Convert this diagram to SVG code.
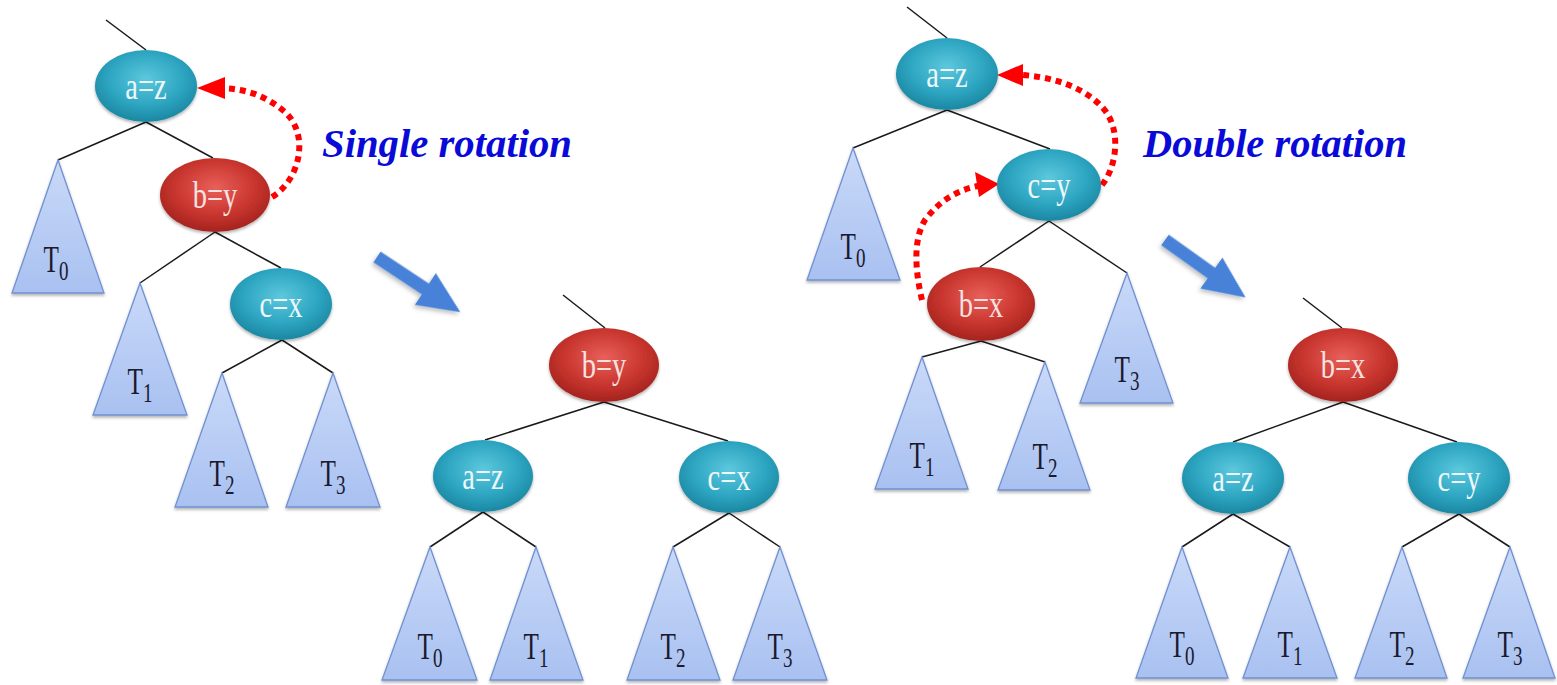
<svg xmlns="http://www.w3.org/2000/svg" width="1557" height="685" viewBox="0 0 1557 685">
<style>
.edge{stroke:#1a1a1a;stroke-width:1.5;fill:none}
.tri{fill:url(#triG);stroke:#7090d0;stroke-width:1.3;filter:url(#sh)}
.teal{fill:url(#tealG);filter:url(#sh)}
.red{fill:url(#redG);filter:url(#sh)}
.nl{font-family:"Liberation Serif","Times New Roman",serif;font-size:38px;fill:#eef8fb;text-anchor:middle}
.nr{fill:#f8e2e0}
.tl{font-family:"Liberation Serif","Times New Roman",serif;font-size:37px;fill:#1a1a30;text-anchor:middle}
.sub{font-size:28px}
.dot{stroke:#ff0000;stroke-width:6;stroke-dasharray:6 5;fill:none}
.ah{fill:#ff0000}
.title{font-family:"Liberation Serif","Times New Roman",serif;font-size:40px;font-weight:bold;font-style:italic;fill:#0a0ad8}
.big{fill:#4682d8;filter:url(#sh2)}
</style>
<defs>
<radialGradient id="tealG" cx="50%" cy="40%" r="60%">
<stop offset="0" stop-color="#5cc8dd"/>
<stop offset="0.6" stop-color="#2ea6c2"/>
<stop offset="1" stop-color="#1b87a2"/>
</radialGradient>
<radialGradient id="redG" cx="50%" cy="40%" r="60%">
<stop offset="0" stop-color="#e8605a"/>
<stop offset="0.6" stop-color="#c9362f"/>
<stop offset="1" stop-color="#a4231e"/>
</radialGradient>
<linearGradient id="triG" x1="0" y1="0" x2="0" y2="1">
<stop offset="0" stop-color="#c9d9f8"/>
<stop offset="1" stop-color="#a9c1f1"/>
</linearGradient>
<filter id="sh" x="-20%" y="-20%" width="140%" height="140%">
<feDropShadow dx="0" dy="2" stdDeviation="1.5" flood-color="#000" flood-opacity="0.3"/>
</filter>
<filter id="sh2" x="-20%" y="-20%" width="140%" height="140%">
<feDropShadow dx="0" dy="3" stdDeviation="2" flood-color="#000" flood-opacity="0.25"/>
</filter>
</defs>

<g id="connectors">
<!-- tree 1 -->
<line class="edge" x1="106" y1="20" x2="146" y2="50"/>
<line class="edge" x1="146" y1="122" x2="58" y2="160"/>
<line class="edge" x1="146" y1="122" x2="213" y2="158"/>
<line class="edge" x1="215" y1="232" x2="140" y2="283"/>
<line class="edge" x1="215" y1="232" x2="281" y2="268"/>
<line class="edge" x1="282" y1="340" x2="222" y2="373"/>
<line class="edge" x1="282" y1="340" x2="333" y2="373"/>
<!-- tree 2 -->
<line class="edge" x1="563" y1="295" x2="605" y2="328"/>
<line class="edge" x1="604" y1="402" x2="485" y2="440"/>
<line class="edge" x1="604" y1="402" x2="728" y2="441"/>
<line class="edge" x1="483" y1="512" x2="430" y2="547"/>
<line class="edge" x1="483" y1="512" x2="536" y2="547"/>
<line class="edge" x1="729" y1="513" x2="673" y2="547"/>
<line class="edge" x1="729" y1="513" x2="780" y2="547"/>
<!-- tree 3 -->
<line class="edge" x1="907" y1="7" x2="947" y2="38"/>
<line class="edge" x1="947" y1="110" x2="853" y2="148"/>
<line class="edge" x1="947" y1="110" x2="1050" y2="149"/>
<line class="edge" x1="1049" y1="221" x2="980" y2="267"/>
<line class="edge" x1="1049" y1="221" x2="1127" y2="273"/>
<line class="edge" x1="981" y1="341" x2="922" y2="357"/>
<line class="edge" x1="981" y1="341" x2="1045" y2="362"/>
<!-- tree 4 -->
<line class="edge" x1="1303" y1="298" x2="1342" y2="328"/>
<line class="edge" x1="1343" y1="402" x2="1233" y2="442"/>
<line class="edge" x1="1343" y1="402" x2="1457" y2="442"/>
<line class="edge" x1="1233" y1="514" x2="1182" y2="547"/>
<line class="edge" x1="1233" y1="514" x2="1290" y2="547"/>
<line class="edge" x1="1459" y1="514" x2="1402" y2="547"/>
<line class="edge" x1="1459" y1="514" x2="1510" y2="547"/>
<!-- rotation arrows -->
<path class="dot" d="M272,197 C300,180 310,135 285,112 C265,95 245,89 222,88"/>
<polygon class="ah" points="197,88 225,77 225,99"/>
<path class="dot" d="M1102,185 C1118,165 1122,125 1100,105 C1080,85 1050,77 1022,75"/>
<polygon class="ah" points="997,75 1023,64 1023,86"/>
<path class="dot" d="M922,300 C915,270 913,240 925,220 C940,200 958,190 978,186"/>
<polygon class="ah" points="999,184 975,172 979,197"/>
<!-- big arrows -->
<polygon class="big" transform="translate(377,257) rotate(33.5)" points="0,-6.5 58,-6.5 58,-19 100,0 58,19 58,6.5 0,6.5"/>
<polygon class="big" transform="translate(1165,240) rotate(35.5)" points="0,-6.5 57,-6.5 57,-19 99,0 57,19 57,6.5 0,6.5"/>
</g>

<text class="title" x="322" y="157" textLength="250" lengthAdjust="spacingAndGlyphs">Single rotation</text>
<text class="title" x="1143" y="157" textLength="264" lengthAdjust="spacingAndGlyphs">Double rotation</text>

<!-- tree 1 nodes -->
<g id="t1-a"><ellipse class="teal" cx="146" cy="86" rx="51" ry="36"/><text class="nl" transform="translate(146,99) scale(0.75,1)">a=z</text></g>
<g id="t1-b"><ellipse class="red" cx="215" cy="195" rx="55" ry="37"/><text class="nl nr" transform="translate(215,208) scale(0.75,1)">b=y</text></g>
<g id="t1-c"><ellipse class="teal" cx="281" cy="304" rx="51" ry="36"/><text class="nl" transform="translate(281,317) scale(0.75,1)">c=x</text></g>
<g id="t1-T0"><polygon class="tri" points="58,160 104,293 12,293"/><text class="tl" transform="translate(56,272) scale(0.68,1)">T<tspan class="sub" dy="8">0</tspan></text></g>
<g id="t1-T1"><polygon class="tri" points="140,283 187,415 93,415"/><text class="tl" transform="translate(140,394) scale(0.68,1)">T<tspan class="sub" dy="8">1</tspan></text></g>
<g id="t1-T2"><polygon class="tri" points="222,373 268,507 175,507"/><text class="tl" transform="translate(222,486) scale(0.68,1)">T<tspan class="sub" dy="8">2</tspan></text></g>
<g id="t1-T3"><polygon class="tri" points="333,373 380,507 286,507"/><text class="tl" transform="translate(333,486) scale(0.68,1)">T<tspan class="sub" dy="8">3</tspan></text></g>

<!-- tree 2 nodes -->
<g id="t2-b"><ellipse class="red" cx="604" cy="365" rx="55" ry="37"/><text class="nl nr" transform="translate(604,378) scale(0.75,1)">b=y</text></g>
<g id="t2-a"><ellipse class="teal" cx="483" cy="476" rx="50" ry="36"/><text class="nl" transform="translate(483,489) scale(0.75,1)">a=z</text></g>
<g id="t2-c"><ellipse class="teal" cx="729" cy="477" rx="50" ry="36"/><text class="nl" transform="translate(729,490) scale(0.75,1)">c=x</text></g>
<g id="t2-T0"><polygon class="tri" points="430,547 477,680 382,680"/><text class="tl" transform="translate(430,659) scale(0.68,1)">T<tspan class="sub" dy="8">0</tspan></text></g>
<g id="t2-T1"><polygon class="tri" points="536,547 583,680 490,680"/><text class="tl" transform="translate(536,659) scale(0.68,1)">T<tspan class="sub" dy="8">1</tspan></text></g>
<g id="t2-T2"><polygon class="tri" points="673,547 720,680 627,680"/><text class="tl" transform="translate(673,659) scale(0.68,1)">T<tspan class="sub" dy="8">2</tspan></text></g>
<g id="t2-T3"><polygon class="tri" points="780,547 827,680 733,680"/><text class="tl" transform="translate(780,659) scale(0.68,1)">T<tspan class="sub" dy="8">3</tspan></text></g>

<!-- tree 3 nodes -->
<g id="t3-a"><ellipse class="teal" cx="947" cy="74" rx="51" ry="36"/><text class="nl" transform="translate(947,87) scale(0.75,1)">a=z</text></g>
<g id="t3-c"><ellipse class="teal" cx="1049" cy="185" rx="52" ry="36"/><text class="nl" transform="translate(1049,198) scale(0.75,1)">c=y</text></g>
<g id="t3-b"><ellipse class="red" cx="981" cy="304" rx="54" ry="37"/><text class="nl nr" transform="translate(981,317) scale(0.75,1)">b=x</text></g>
<g id="t3-T0"><polygon class="tri" points="853,148 900,280 807,280"/><text class="tl" transform="translate(853,259) scale(0.68,1)">T<tspan class="sub" dy="8">0</tspan></text></g>
<g id="t3-T3"><polygon class="tri" points="1127,273 1173,403 1080,403"/><text class="tl" transform="translate(1127,382) scale(0.68,1)">T<tspan class="sub" dy="8">3</tspan></text></g>
<g id="t3-T1"><polygon class="tri" points="922,357 968,489 875,489"/><text class="tl" transform="translate(922,468) scale(0.68,1)">T<tspan class="sub" dy="8">1</tspan></text></g>
<g id="t3-T2"><polygon class="tri" points="1045,362 1090,490 998,490"/><text class="tl" transform="translate(1045,469) scale(0.68,1)">T<tspan class="sub" dy="8">2</tspan></text></g>

<!-- tree 4 nodes -->
<g id="t4-b"><ellipse class="red" cx="1343" cy="365" rx="55" ry="37"/><text class="nl nr" transform="translate(1343,378) scale(0.75,1)">b=x</text></g>
<g id="t4-a"><ellipse class="teal" cx="1233" cy="478" rx="51" ry="36"/><text class="nl" transform="translate(1233,491) scale(0.75,1)">a=z</text></g>
<g id="t4-c"><ellipse class="teal" cx="1459" cy="478" rx="51" ry="36"/><text class="nl" transform="translate(1459,491) scale(0.75,1)">c=y</text></g>
<g id="t4-T0"><polygon class="tri" points="1182,547 1228,678 1136,678"/><text class="tl" transform="translate(1182,657) scale(0.68,1)">T<tspan class="sub" dy="8">0</tspan></text></g>
<g id="t4-T1"><polygon class="tri" points="1290,547 1337,678 1243,678"/><text class="tl" transform="translate(1290,657) scale(0.68,1)">T<tspan class="sub" dy="8">1</tspan></text></g>
<g id="t4-T2"><polygon class="tri" points="1402,547 1447,678 1355,678"/><text class="tl" transform="translate(1402,657) scale(0.68,1)">T<tspan class="sub" dy="8">2</tspan></text></g>
<g id="t4-T3"><polygon class="tri" points="1510,547 1555,678 1463,678"/><text class="tl" transform="translate(1510,657) scale(0.68,1)">T<tspan class="sub" dy="8">3</tspan></text></g>
</svg>
